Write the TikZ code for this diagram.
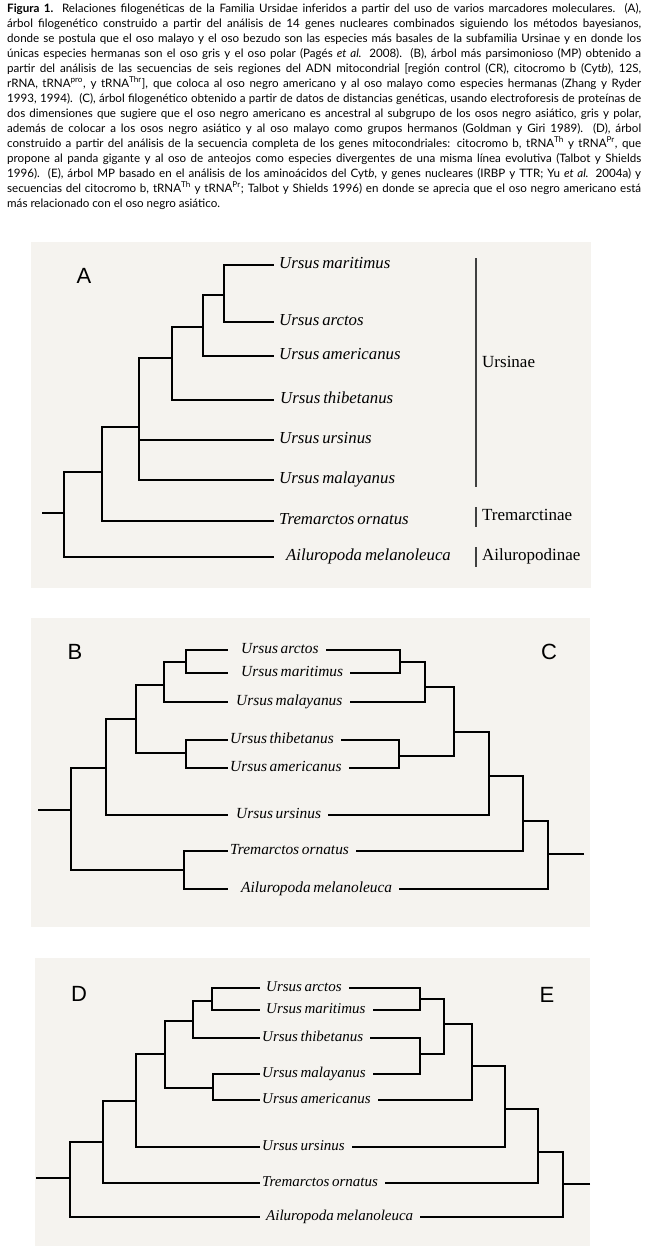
\documentclass[tikz,border=0pt]{standalone}
\usepackage{fontspec}
\setmainfont{Liberation Serif}
\newfontfamily\spfont[WordSpace=0.7]{Liberation Serif}
\newfontfamily\capfont{Lato}
\newfontfamily\letfont{Liberation Sans}
\usepackage{xcolor}
\usetikzlibrary{positioning}
\definecolor{panelbg}{RGB}{245,243,239}

\begin{document}
\begin{tikzpicture}[x=1pt,y=-1pt]
\tikzset{
  bg/.style={fill=panelbg,draw=none},
  tl/.style={line width=1.5pt},
  rt/.style={line width=1.1pt},
  cl/.style={tl,shorten >=7pt},
  sa/.style={font=\spfont\fontsize{16.8}{18}\selectfont\itshape,inner sep=0pt,text height=11pt,text depth=3.5pt},
  sb/.style={font=\spfont\fontsize{15.4}{17}\selectfont\itshape,inner sep=0pt,text height=10pt,text depth=3pt},
  sd/.style={font=\spfont\fontsize{15}{17}\selectfont\itshape,inner sep=0pt,text height=10pt,text depth=3pt},
  sf/.style={font=\fontsize{17}{19}\selectfont,inner sep=0pt,text height=11pt,text depth=3.5pt,anchor=west},
  br/.style={line width=1.2pt,draw=black!75},
  pl/.style={font=\letfont\fontsize{22}{24}\selectfont,inner sep=0pt},
  capt/.style={font=\capfont\fontsize{11.6}{15}\selectfont,inner sep=0pt,anchor=north west,align=left}
}
\useasboundingbox (0,0) rectangle (648,1256);

\node[capt] (cp) at (7,3) {%
\makebox[634pt][s]{\textbf{Figura 1.} Relaciones filogenéticas de la Familia Ursidae inferidos a partir del uso de varios marcadores moleculares.~~(A),}\\
\makebox[634pt][s]{árbol filogenético construido a partir del análisis de 14 genes nucleares combinados siguiendo los métodos bayesianos,}\\
\makebox[634pt][s]{donde se postula que el oso malayo y el oso bezudo son las especies más basales de la subfamilia Ursinae y en donde los}\\
\makebox[634pt][s]{únicas especies hermanas son el oso gris y el oso polar (Pagés \emph{et al.} 2008).~~(B), árbol más parsimonioso (MP) obtenido a}\\
\makebox[634pt][s]{partir del análisis de las secuencias de seis regiones del ADN mitocondrial [región control (CR), citocromo b (Cyt\emph{b}), 12S,}\\
\makebox[634pt][s]{rRNA, tRNA\textsuperscript{pro}, y tRNA\textsuperscript{Thr}], que coloca al oso negro americano y al oso malayo como especies hermanas (Zhang y Ryder}\\
\makebox[634pt][s]{1993, 1994).~~(C), árbol filogenético obtenido a partir de datos de distancias genéticas, usando electroforesis de proteínas de}\\
\makebox[634pt][s]{dos dimensiones que sugiere que el oso negro americano es ancestral al subgrupo de los osos negro asiático, gris y polar,}\\
\makebox[634pt][s]{además de colocar a los osos negro asiático y al oso malayo como grupos hermanos (Goldman y Giri 1989).~~(D), árbol}\\
\makebox[634pt][s]{construido a partir del análisis de la secuencia completa de los genes mitocondriales: citocromo b, tRNA\textsuperscript{Th} y tRNA\textsuperscript{Pr}, que}\\
\makebox[634pt][s]{propone al panda gigante y al oso de anteojos como especies divergentes de una misma línea evolutiva (Talbot y Shields}\\
\makebox[634pt][s]{1996).~~(E), árbol MP basado en el análisis de los aminoácidos del Cyt\emph{b}, y genes nucleares (IRBP y TTR; Yu \emph{et al.} 2004a) y}\\
\makebox[634pt][s]{secuencias del citocromo b, tRNA\textsuperscript{Th} y tRNA\textsuperscript{Pr}; Talbot y Shields 1996) en donde se aprecia que el oso negro americano está}\\
más relacionado con el oso negro asiático.};

% panel A
\fill[bg] (31,242) rectangle (591,588);
\node[pl] (lA) at (84,276) {A};
\coordinate (aL1) at (274,265); \coordinate (aL2) at (274,322);
\coordinate (aL3) at (274,356); \coordinate (aL4) at (274,400);
\coordinate (aL5) at (274,440); \coordinate (aL6) at (274,480);
\coordinate (aL7) at (274,521); \coordinate (aL8) at (274,557);
\node[sa,right=5pt of aL1] (a1t) {Ursus maritimus};
\node[sa,right=5pt of aL2] (a2t) {Ursus arctos};
\node[sa,right=5pt of aL3] (a3t) {Ursus americanus};
\node[sa,right=6pt of aL4] (a4t) {Ursus thibetanus};
\node[sa,right=5pt of aL5] (a5t) {Ursus ursinus};
\node[sa,right=5pt of aL6] (a6t) {Ursus malayanus};
\node[sa,right=5pt of aL7] (a7t) {Tremarctos ornatus};
\node[sa,right=12pt of aL8] (a8t) {Ailuropoda melanoleuca};
\coordinate (a0) at (42,513); \coordinate (aR) at (64,513);
\coordinate (a1) at (102,472); \coordinate (a2) at (139,427);
\coordinate (a3) at (172,358); \coordinate (a4) at (203,327);
\coordinate (a5) at (224,295);
\draw[rt] (a0) -- (aR);
\draw[tl] (aR) |- (a1) (aR) |- (aL8);
\draw[tl] (a1) |- (a2) (a1) |- (aL7);
\draw[tl] (a2) |- (a3) (a2) |- (aL5) (a2) |- (aL6);
\draw[tl] (a3) |- (a4) (a3) |- (aL4);
\draw[tl] (a4) |- (a5) (a4) |- (aL3);
\draw[tl] (a5) |- (aL1) (a5) |- (aL2);
\node[sf] (uA) at (482,364) {Ursinae};
\node[sf] (tA) at (482,517) {Tremarctinae};
\node[sf] (pA) at (482,557) {Ailuropodinae};
\draw[br] (uA.west) ++(-6,-106) -- ++(0,229);
\draw[br] (tA.west) ++(-6,-10) -- ++(0,20);
\draw[br] (pA.west) ++(-6,-10) -- ++(0,20);

% panels B and C
\fill[bg] (31,618) rectangle (590,927);
\node[pl] (lB) at (75,652) {B};
\node[pl] (lC) at (549,652) {C};
\coordinate (bL1) at (228,650); \coordinate (bL2) at (228,673);
\coordinate (bL3) at (228,702); \coordinate (bL4) at (228,740);
\coordinate (bL5) at (228,768); \coordinate (bL6) at (228,815);
\coordinate (bL7) at (228,851); \coordinate (bL8) at (228,889);
\node[sb,right=13pt of bL1] (b1t) {Ursus arctos};
\node[sb,right=13pt of bL2] (b2t) {Ursus maritimus};
\node[sb,right=8pt of bL3] (b3t) {Ursus malayanus};
\node[sb,right=2pt of bL4] (b4t) {Ursus thibetanus};
\node[sb,right=2pt of bL5] (b5t) {Ursus americanus};
\node[sb,right=8pt of bL6] (b6t) {Ursus ursinus};
\node[sb,right=2pt of bL7] (b7t) {Tremarctos ornatus};
\node[sb,right=13pt of bL8] (b8t) {Ailuropoda melanoleuca};
\coordinate (b0) at (38,810); \coordinate (bR) at (71,810);
\coordinate (b1) at (106,768); \coordinate (b2) at (136,719);
\coordinate (b3) at (164,685); \coordinate (b4) at (186,662);
\coordinate (b6) at (186,753); \coordinate (b7) at (184,870);
\draw[rt] (b0) -- (bR);
\draw[tl] (bR) |- (b1) (bR) |- (b7);
\draw[tl] (b1) |- (b2) (b1) |- (bL6);
\draw[tl] (b2) |- (b3) (b2) |- (b6);
\draw[tl] (b3) |- (b4) (b3) |- (bL3);
\draw[tl] (b4) |- (bL1) (b4) |- (bL2);
\draw[tl] (b6) |- (bL4) (b6) |- (bL5);
\draw[tl] (b7) |- (bL7) (b7) |- (bL8);
\coordinate (c1) at (400,662); \coordinate (c2) at (425,687);
\coordinate (c3) at (399,756); \coordinate (c4) at (454,732);
\coordinate (c5) at (489,776); \coordinate (c6) at (523,821);
\coordinate (cR) at (548,854); \coordinate (c0) at (584,854);
\draw[rt] (c0) -- (cR);
\draw[tl] (cR) |- (c6); \draw[cl] (cR) |- (b8t.east);
\draw[tl] (c6) |- (c5); \draw[cl] (c6) |- (b7t.east);
\draw[tl] (c5) |- (c4); \draw[cl] (c5) |- (b6t.east);
\draw[tl] (c4) |- (c2) (c4) |- (c3);
\draw[tl] (c2) |- (c1); \draw[cl] (c2) |- (b3t.east);
\draw[cl] (c1) |- (b1t.east); \draw[cl] (c1) |- (b2t.east);
\draw[cl] (c3) |- (b4t.east); \draw[cl] (c3) |- (b5t.east);

% panels D and E
\fill[bg] (35,958) rectangle (590,1246);
\node[pl] (lD) at (79,994) {D};
\node[pl] (lE) at (547,995) {E};
\coordinate (dL1) at (260,988); \coordinate (dL2) at (260,1010);
\coordinate (dL3) at (260,1038); \coordinate (dL4) at (260,1074);
\coordinate (dL5) at (260,1100); \coordinate (dL6) at (260,1147);
\coordinate (dL7) at (260,1183); \coordinate (dL8) at (260,1217);
\node[sd,right=6pt of dL1] (d1t) {Ursus arctos};
\node[sd,right=6pt of dL2] (d2t) {Ursus maritimus};
\node[sd,right=2pt of dL3] (d3t) {Ursus thibetanus};
\node[sd,right=2pt of dL4] (d4t) {Ursus malayanus};
\node[sd,right=2pt of dL5] (d5t) {Ursus americanus};
\node[sd,right=2pt of dL6] (d6t) {Ursus ursinus};
\node[sd,right=2pt of dL7] (d7t) {Tremarctos ornatus};
\node[sd,right=6pt of dL8] (d8t) {Ailuropoda melanoleuca};
\coordinate (d0) at (36,1178); \coordinate (dR) at (70,1178);
\coordinate (d1) at (103,1142); \coordinate (d2) at (136,1101);
\coordinate (d3) at (165,1054); \coordinate (d4) at (193,1021);
\coordinate (d5) at (212,1001); \coordinate (d6) at (213,1088);
\draw[rt] (d0) -- (dR);
\draw[tl] (dR) |- (d1) (dR) |- (dL8);
\draw[tl] (d1) |- (d2) (d1) |- (dL7);
\draw[tl] (d2) |- (d3) (d2) |- (dL6);
\draw[tl] (d3) |- (d4) (d3) |- (d6);
\draw[tl] (d4) |- (d5) (d4) |- (dL3);
\draw[tl] (d5) |- (dL1) (d5) |- (dL2);
\draw[tl] (d6) |- (dL4) (d6) |- (dL5);
\coordinate (e1) at (420,999); \coordinate (e2) at (420,1054);
\coordinate (e3) at (444,1024); \coordinate (e4) at (472,1066);
\coordinate (e5) at (505,1109); \coordinate (e6) at (538,1152);
\coordinate (eR) at (563,1184); \coordinate (e0) at (590,1184);
\draw[rt] (e0) -- (eR);
\draw[tl] (eR) |- (e6); \draw[cl] (eR) |- (d8t.east);
\draw[tl] (e6) |- (e5); \draw[cl] (e6) |- (d7t.east);
\draw[tl] (e5) |- (e4); \draw[cl] (e5) |- (d6t.east);
\draw[tl] (e4) |- (e3); \draw[cl] (e4) |- (d5t.east);
\draw[tl] (e3) |- (e1) (e3) |- (e2);
\draw[cl] (e1) |- (d1t.east); \draw[cl] (e1) |- (d2t.east);
\draw[cl] (e2) |- (d3t.east); \draw[cl] (e2) |- (d4t.east);
\end{tikzpicture}
\end{document}
